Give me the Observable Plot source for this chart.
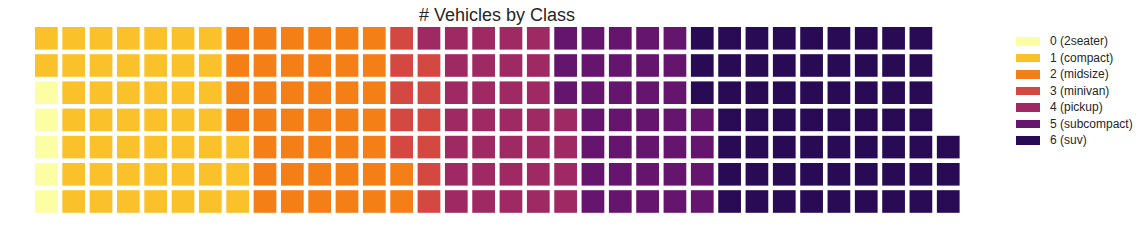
<!DOCTYPE html>
<html>
<head>
<meta charset="utf-8">
<script src="https://cdn.jsdelivr.net/npm/d3@7"></script>
<script src="https://cdn.jsdelivr.net/npm/@observablehq/plot@0.6"></script>
<style>
  html, body { margin: 0; padding: 0; background: #fff; }
  #wrap { position: relative; width: 1144px; height: 241px; font-family: "Liberation Sans", Arial, sans-serif; }
  #title { position: absolute; left: 0; width: 994px; text-align: center; top: 6px; font-size: 18px; line-height: 18px; color: #262626; }
  #legend { position: absolute; left: 1016px; top: 33.2px; }
  .row { display: flex; align-items: center; height: 16.53px; }
  .sw { width: 24px; height: 8.4px; margin-right: 10px; }
  .lt { font-size: 12px; line-height: 16.53px; color: #262626; white-space: nowrap; }
</style>
</head>
<body>
<div id="wrap">
  <div id="chart"></div>
  <div id="title"># Vehicles by Class</div>
  <div id="legend"></div>
</div>
<script>
const classes = ["2seater", "compact", "midsize", "minivan", "pickup", "subcompact", "suv"];
const counts = [5, 47, 41, 11, 33, 35, 62];
const colors = ["#fcfea4", "#fac12a", "#f57f17", "#d44842", "#9f2a63", "#65156e", "#280b54"];
const nRows = 7;

const cells = [];
let idx = 0;
classes.forEach((c, k) => {
  for (let j = 0; j < counts[k]; j++) {
    cells.push({cls: c, col: Math.floor(idx / nRows), row: idx % nRows});
    idx++;
  }
});
const nCols = Math.ceil(idx / nRows);

const chart = Plot.plot({
  width: 1144,
  height: 241,
  marginLeft: 35,
  marginRight: 179.8,
  marginTop: 27,
  marginBottom: 23.6,
  x: {domain: [0, nCols], axis: null},
  y: {domain: [0, nRows], axis: null},
  color: {domain: classes, range: colors},
  style: {background: "#fff"},
  marks: [
    Plot.rect(cells, {
      x1: "col", x2: d => d.col + 1,
      y1: "row", y2: d => d.row + 1,
      fill: "cls",
      insetRight: 4.6,
      insetBottom: 4.6
    })
  ]
});
document.getElementById("chart").appendChild(chart);

const legend = document.getElementById("legend");
classes.forEach((c, k) => {
  const row = document.createElement("div");
  row.className = "row";
  const sw = document.createElement("div");
  sw.className = "sw";
  sw.style.background = colors[k];
  const t = document.createElement("div");
  t.className = "lt";
  t.textContent = `${k} (${c})`;
  row.appendChild(sw);
  row.appendChild(t);
  legend.appendChild(row);
});
</script>
</body>
</html>
